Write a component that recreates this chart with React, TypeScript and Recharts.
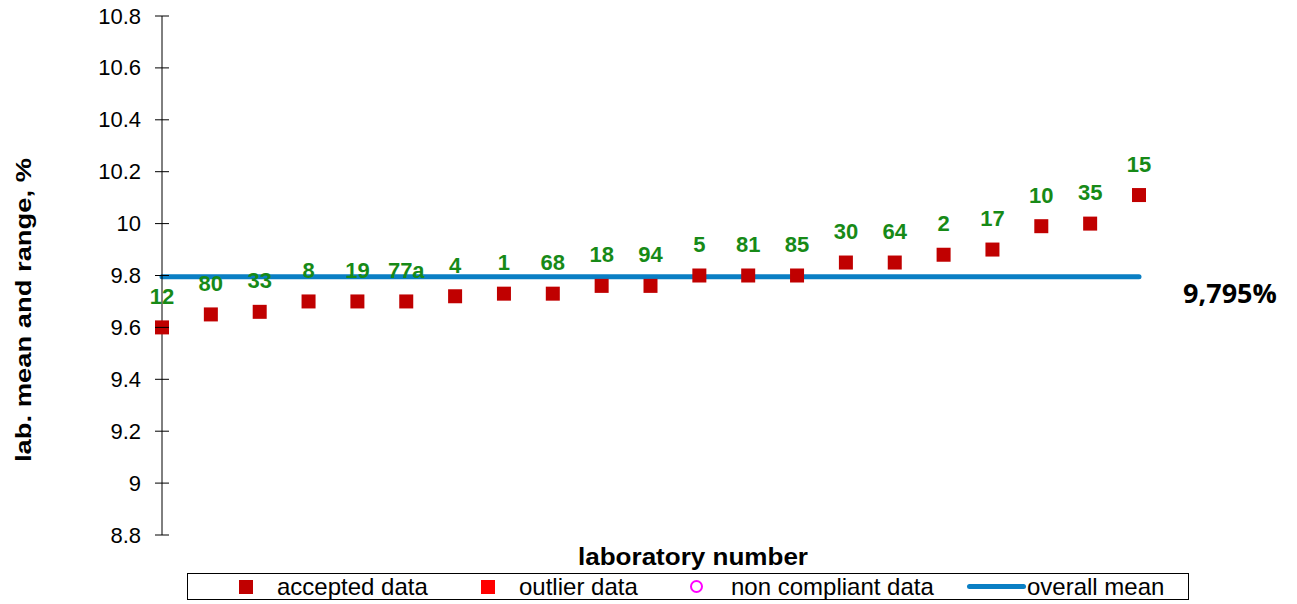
import React from "react";
import {
  ComposedChart,
  Scatter,
  XAxis,
  YAxis,
  ReferenceLine,
  Label,
} from "recharts";

// laboratory codes, sorted by mean
const labs = ["12", "80", "33", "8", "19", "77a", "4", "1", "68", "18", "94", "5", "81", "85", "30", "64", "2", "17", "10", "35", "15"];
const labMeans = [9.6, 9.65, 9.66, 9.7, 9.7, 9.7, 9.72, 9.73, 9.73, 9.76, 9.76, 9.8, 9.8, 9.8, 9.85, 9.85, 9.88, 9.9, 9.99, 10.0, 10.11];
const overallMean = 9.795;
const yTicks = [8.8, 9, 9.2, 9.4, 9.6, 9.8, 10, 10.2, 10.4, 10.6, 10.8];

const data = labs.map((lab, i) => ({ idx: i, lab, mean: labMeans[i] }));

const FONT = "Arial, 'Liberation Sans', sans-serif";

function LabPoint(props: any) {
  const { cx, cy, payload } = props;
  if (cx == null || cy == null) return null;
  return (
    <g>
      <rect x={cx - 7} y={cy - 7} width={14} height={14} fill="#c00000" />
      <text
        x={cx}
        y={cy - 31}
        textAnchor="middle"
        dominantBaseline="central"
        fill="#178a17"
        fontFamily={FONT}
        fontWeight="bold"
        fontSize={22}
      >
        {payload.lab}
      </text>
    </g>
  );
}

function YTick(props: any) {
  const { x, y, payload } = props;
  return (
    <g>
      <line x1={x - 7} x2={x + 7} y1={y} y2={y} stroke="#000" strokeWidth={1} />
      <text
        x={x - 21}
        y={y}
        textAnchor="end"
        dominantBaseline="central"
        fill="#000"
        fontFamily={FONT}
        fontSize={22}
      >
        {payload.value}
      </text>
    </g>
  );
}

function LegendBox() {
  const item: React.CSSProperties = {
    display: "flex",
    alignItems: "center",
    position: "absolute",
    top: 0,
    height: 25,
    whiteSpace: "nowrap",
  };
  return (
    <div
      style={{
        position: "absolute",
        left: 187,
        top: 573,
        width: 1002,
        height: 27,
        border: "1px solid #000",
        boxSizing: "border-box",
        fontFamily: FONT,
        fontSize: 24,
        color: "#000",
        background: "#fff",
      }}
    >
      <div style={{ ...item, left: 51 }}>
        <span style={{ width: 14, height: 14, background: "#c00000", display: "inline-block" }} />
        <span style={{ marginLeft: 24 }}>accepted data</span>
      </div>
      <div style={{ ...item, left: 293 }}>
        <span style={{ width: 14, height: 14, background: "#ff0000", display: "inline-block" }} />
        <span style={{ marginLeft: 24 }}>outlier data</span>
      </div>
      <div style={{ ...item, left: 502 }}>
        <span
          style={{
            width: 9,
            height: 9,
            border: "2px solid #ff00ff",
            borderRadius: "50%",
            display: "inline-block",
          }}
        />
        <span style={{ marginLeft: 28 }}>non compliant data</span>
      </div>
      <div style={{ ...item, left: 779 }}>
        <span style={{ width: 59, height: 5, background: "#0a7fc4", borderRadius: 3, display: "inline-block" }} />
        <span style={{ marginLeft: 1 }}>overall mean</span>
      </div>
    </div>
  );
}

export default function App() {
  return (
    <div style={{ position: "absolute", left: 0, top: 0, width: 1297, height: 604, background: "#fff" }}>
      <ComposedChart
        width={1297}
        height={604}
        data={data}
        margin={{ top: 16, right: 158, bottom: 69, left: 0 }}
      >
        <XAxis
          type="number"
          dataKey="idx"
          domain={[0, labs.length - 1]}
          hide
        />
        <YAxis
          type="number"
          domain={[8.8, 10.8]}
          ticks={yTicks}
          width={162}
          axisLine={{ stroke: "#000", strokeWidth: 1 }}
          tickLine={false}
          tickSize={0}
          tickMargin={0}
          tick={<YTick />}
          interval={0}
        >
          <Label
            content={() => (
              <text
                x={23}
                y={310}
                transform="rotate(-90 23 310)"
                textAnchor="middle"
                dominantBaseline="central"
                fontFamily={FONT}
                fontWeight="bold"
                fontSize={22}
                textLength={304}
                lengthAdjust="spacingAndGlyphs"
                fill="#000"
              >
                lab. mean and range, %
              </text>
            )}
          />
        </YAxis>
        <ReferenceLine
          y={overallMean}
          stroke="#0a7fc4"
          strokeWidth={5}
          strokeLinecap="round"
        >
          <Label
            content={(p: any) => (
              <text
                x={1230}
                y={p.viewBox.y + 16}
                textAnchor="middle"
                dominantBaseline="central"
                fontFamily="'Open Sans', sans-serif"
                fontWeight="bold"
                fontSize={27}
                fill="#000"
              >
                9,795%
              </text>
            )}
          />
        </ReferenceLine>
        <Scatter
          name="accepted data"
          dataKey="mean"
          shape={<LabPoint />}
          isAnimationActive={false}
        />
        <text
          x={693}
          y={556}
          textAnchor="middle"
          dominantBaseline="central"
          fontFamily={FONT}
          fontWeight="bold"
          fontSize={24}
          textLength={230}
          lengthAdjust="spacingAndGlyphs"
          fill="#000"
        >
          laboratory number
        </text>
      </ComposedChart>
      <LegendBox />
    </div>
  );
}
